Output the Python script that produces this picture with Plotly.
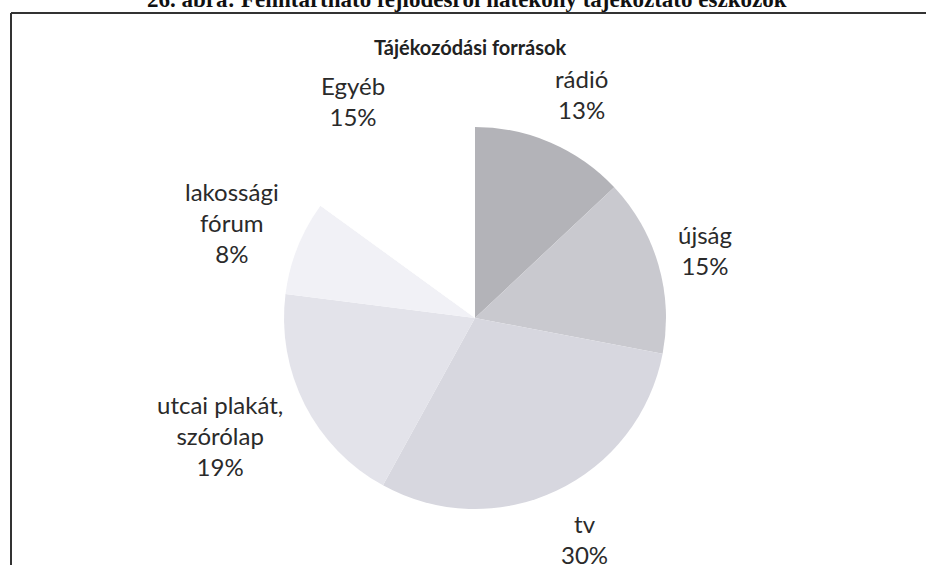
import math
import plotly.graph_objects as go

categories = ["rádió", "újság", "tv", "utcai plakát,<br>szórólap", "lakossági<br>fórum", "Egyéb"]
values = [13, 15, 30, 19, 8, 15]
colors = ["#b3b3b8", "#c9c9cf", "#d7d7df", "#e3e3ea", "#f1f1f6", "#ffffff"]

W, H = 926, 565
CX, CY, R = 475, 318, 191
L, T = CX - R, CY - R
PW = PH = 2 * R
B = H - (CY + R)
RM = W - (CX + R)

def px2paper(px, py):
    return (px - L) / PW, ((T + PH) - py) / PH

fig = go.Figure(go.Pie(
    labels=[c.replace("<br>", " ") for c in categories],
    values=values,
    sort=False,
    direction="clockwise",
    rotation=0,
    marker=dict(colors=colors, line=dict(color="rgba(255,255,255,0)", width=0)),
    textinfo="none",
    hoverinfo="label+percent",
    showlegend=False,
))

def clamp(t):
    return max(-1.0, min(1.0, t))

# data labels placed outside each slice, computed from slice mid-angles
annotations = []
total = sum(values)
cum = 0
font_size = 24
char_w = 10.0
line_h = 31
gap = 22
for cat, v in zip(categories, values):
    mid = (cum + v / 2) / total * 2 * math.pi
    cum += v
    pct = f"{round(v / total * 100)}%"
    lines = cat.split("<br>") + [pct]
    w = max(len(s) + s.count("%") for s in lines) * char_w
    h = len(lines) * line_h
    s, c = math.sin(mid), math.cos(mid)
    px = CX + s * (R + gap) + clamp(s / 0.45) * w / 2
    py = CY - c * (R + gap) - c * h / 2
    x, y = px2paper(px, py)
    annotations.append(dict(
        x=x, y=y, xref="paper", yref="paper", text="<br>".join(lines),
        showarrow=False, xanchor="center", yanchor="middle",
        font=dict(family="Lato, Open Sans, sans-serif", size=font_size, color="#2a2a2a"),
        align="center",
    ))

# chart title
tx, ty = px2paper(470, 47)
annotations.append(dict(
    x=tx, y=ty, xref="paper", yref="paper", text="<b>Tájékozódási források</b>",
    showarrow=False, xanchor="center", yanchor="middle",
    font=dict(family="Lato, Open Sans, sans-serif", size=20, color="#222222"),
))
# figure caption (cut off at the top, as in the source image)
fx, fy = px2paper(467, 14)
annotations.append(dict(
    x=fx, y=fy, xref="paper", yref="paper",
    text="<b>26. ábra: Fenntartható fejlődésről hatékony tájékoztató eszközök</b>",
    showarrow=False, xanchor="center", yanchor="bottom",
    font=dict(family="Liberation Serif, serif", size=23, color="#111111"),
))

x0, y0 = px2paper(11, 13)
x1, _ = px2paper(W + 5, 13)
_, y1 = px2paper(11, H + 5)
shapes = [
    dict(type="line", xref="paper", yref="paper", x0=x0, y0=y0, x1=x1, y1=y0,
         line=dict(color="#333333", width=2)),
    dict(type="line", xref="paper", yref="paper", x0=x0, y0=y0, x1=x0, y1=y1,
         line=dict(color="#333333", width=2)),
]

fig.update_layout(
    width=W, height=H,
    margin=dict(l=L, r=RM, t=T, b=B, pad=0),
    paper_bgcolor="white", plot_bgcolor="white",
    annotations=annotations, shapes=shapes,
)
fig.write_html("out.html", config={"displayModeBar": False},
               post_script="document.body.style.margin='0';")
